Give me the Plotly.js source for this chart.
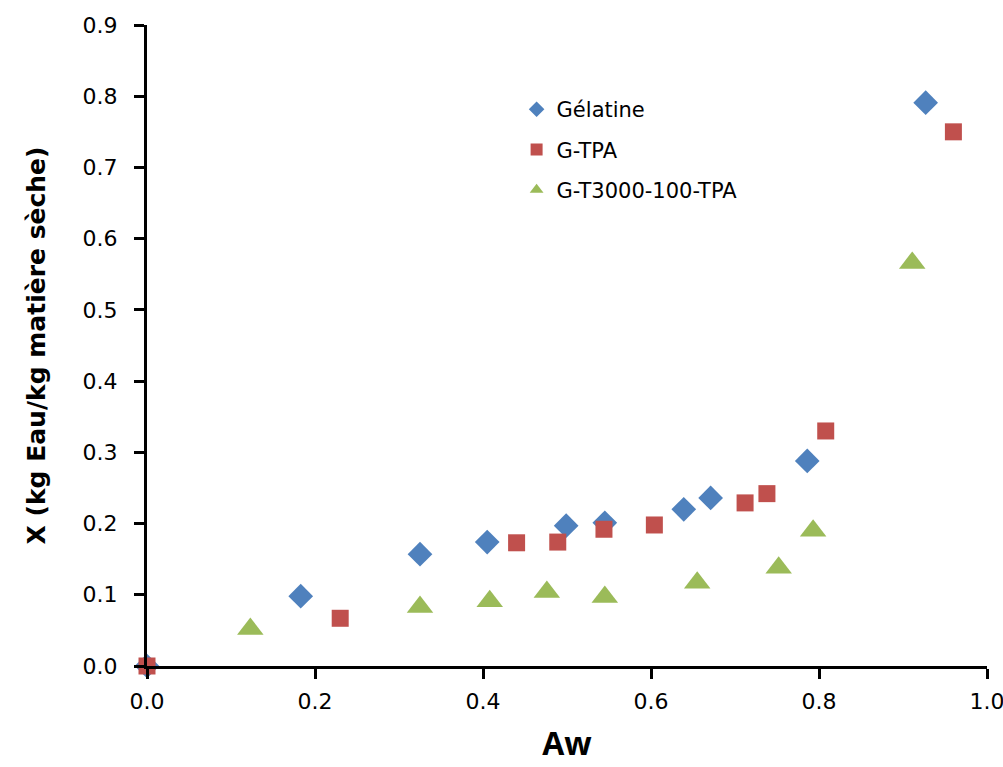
<!DOCTYPE html>
<html><head><meta charset="utf-8">
<script src="https://cdn.plot.ly/plotly-3.0.1.min.js"></script>
<style>body{margin:0;background:#fff}#c{width:1003px;height:767px}</style>
</head><body><div id="c"></div>
<script>
const gelatineAw = [0.0, 0.183, 0.325, 0.405, 0.499, 0.545, 0.639, 0.671, 0.786, 0.927];
const gelatineX  = [0.0, 0.098, 0.157, 0.174, 0.197, 0.201, 0.220, 0.236, 0.288, 0.791];
const gtpaAw = [0.0, 0.230, 0.440, 0.489, 0.544, 0.604, 0.712, 0.738, 0.808, 0.960];
const gtpaX  = [0.0, 0.067, 0.173, 0.174, 0.192, 0.198, 0.229, 0.242, 0.330, 0.750];
const gt3Aw = [0.123, 0.325, 0.408, 0.476, 0.545, 0.655, 0.752, 0.793, 0.911];
const gt3X  = [0.052, 0.083, 0.091, 0.104, 0.097, 0.117, 0.138, 0.190, 0.566];
const names = ['Gélatine', 'G-TPA', 'G-T3000-100-TPA'];
const xTicks = [0, 0.2, 0.4, 0.6, 0.8, 1.0];
const yTicks = [0, 0.1, 0.2, 0.3, 0.4, 0.5, 0.6, 0.7, 0.8, 0.9];

const font = 'DejaVu Sans, sans-serif';
const traces = [
  {x: gelatineAw, y: gelatineX, name: names[0], legendgroup: 'a', mode: 'markers', type: 'scatter', cliponaxis: false,
   marker: {symbol: 'diamond', size: 19, color: '#4F81BD'}},
  {x: gtpaAw, y: gtpaX, name: names[1], legendgroup: 'b', mode: 'markers', type: 'scatter', cliponaxis: false,
   marker: {symbol: 'square', size: 17, color: '#C0504D'}},
  {x: gt3Aw, y: gt3X, name: names[2], legendgroup: 'c', mode: 'markers', type: 'scatter', cliponaxis: false,
   marker: {symbol: 'triangle-up', size: 23, color: '#9BBB59'}}
];
const layout = {
  width: 1003, height: 767,
  margin: {l: 147, r: 16, t: 25, b: 101},
  paper_bgcolor: '#fff', plot_bgcolor: '#fff',
  font: {family: font, color: '#000', size: 21},
  showlegend: true,
  legend: {x: 0.44, y: 0.9, xanchor: 'left', yanchor: 'top', font: {size: 21, family: font},
           traceorder: 'grouped', bgcolor: 'rgba(0,0,0,0)', tracegroupgap: 10, itemsizing: 'constant'},
  xaxis: {range: [0, 1.0], tickvals: xTicks, tickformat: '.1f', showgrid: false, zeroline: false,
          showline: true, linecolor: '#000', linewidth: 3, ticks: 'outside', ticklen: 10, tickwidth: 3,
          tickcolor: '#000', tickfont: {size: 22}, ticklabelstandoff: 4, ticklabeloverflow: 'allow',
          title: {text: '<b>Aw</b>', font: {size: 32, family: 'Open Sans, sans-serif'}, standoff: 20}},
  yaxis: {range: [0, 0.9], tickvals: yTicks, tickformat: '.1f', showgrid: false, zeroline: false,
          showline: true, linecolor: '#000', linewidth: 3, ticks: 'outside', ticklen: 10, tickwidth: 3,
          tickcolor: '#000', tickfont: {size: 22}, ticklabelstandoff: 12, ticklabeloverflow: 'allow',
          title: {text: '<b>X (kg Eau/kg matière sèche)</b>', font: {size: 25}, standoff: 30}}
};
Plotly.newPlot('c', traces, layout, {displayModeBar: false, staticPlot: true});
</script></body></html>
